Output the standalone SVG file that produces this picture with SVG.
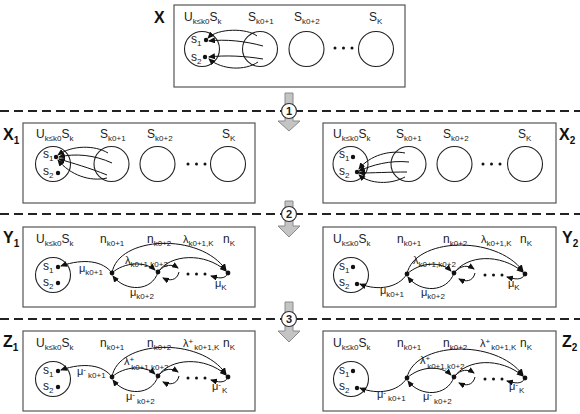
<svg xmlns="http://www.w3.org/2000/svg" width="580" height="414" viewBox="0 0 580 414">
<defs>
<marker id="ah" markerUnits="userSpaceOnUse" markerWidth="7" markerHeight="6" refX="6" refY="3" orient="auto">
<path d="M0,0 L7,3 L0,6 z" fill="#111"/>
</marker>
</defs>
<style>
text{font-family:"Liberation Sans",Arial,sans-serif;fill:#222}
.t{font-size:12px}
.g{font-size:11px}
.sb{font-size:8px}
.lab{font-size:16px;font-weight:bold;fill:#111}
.lsub{font-size:10px;font-weight:bold}
.box{fill:#fff;stroke:#555;stroke-width:1.2}
.set{fill:none;stroke:#222;stroke-width:1.1}
.c{fill:none;stroke:#111;stroke-width:1;marker-end:url(#ah)}
.dot{fill:#111}
.dash{stroke:#222;stroke-width:2;stroke-dasharray:9 5}
.step{fill:#c4c4c4;stroke:#8a8a8a;stroke-width:1}
.num{fill:#fff;stroke:#333;stroke-width:1.2}
.nt{font-size:11px;font-weight:bold;text-anchor:middle}
</style>
<rect width="580" height="414" fill="#fff"/>
<g id="all" opacity="0.995">
<g id="separators">
<line class="dash" x1="0" y1="111" x2="580" y2="111"/>
<line class="dash" x1="0" y1="214" x2="580" y2="214"/>
<line class="dash" x1="0" y1="319" x2="580" y2="319"/>
</g>

<g id="step1">
<path class="step" d="M285,93 H293 V121 H300 L289,131 L278,121 H285 Z"/>
<circle class="num" cx="289" cy="111" r="7.5"/>
<text class="nt" x="289" y="115">1</text>
</g>
<g id="step2">
<path class="step" d="M285,201 H293 V226 H300 L289,237 L278,226 H285 Z"/>
<circle class="num" cx="289" cy="214" r="7.5"/>
<text class="nt" x="289" y="218">2</text>
</g>
<g id="step3">
<path class="step" d="M285,302 H293 V331 H300 L289,342 L278,331 H285 Z"/>
<circle class="num" cx="289" cy="319" r="7.5"/>
<text class="nt" x="289" y="323">3</text>
</g>

<g id="panelX">
<rect class="box" x="174" y="5" width="231" height="82"/>
<text class="lab" x="154" y="23">X</text>
<text class="t" x="184" y="21">U<tspan class="sb" dy="3">k≤k0</tspan><tspan dy="-3">S</tspan><tspan class="sb" dy="3">k</tspan></text>
<text class="t" x="248" y="21">S<tspan class="sb" dy="3">k0+1</tspan></text>
<text class="t" x="294" y="21">S<tspan class="sb" dy="3">k0+2</tspan></text>
<text class="t" x="369" y="21">S<tspan class="sb" dy="3">K</tspan></text>
<circle class="set" cx="202" cy="49" r="17.5"/>
<circle class="set" cx="260" cy="49" r="17.5"/>
<circle class="set" cx="306.5" cy="49" r="17.5"/>
<circle class="set" cx="376" cy="49" r="17.5"/>
<circle class="dot" cx="335" cy="48" r="1.5"/><circle class="dot" cx="343.5" cy="48" r="1.5"/><circle class="dot" cx="352" cy="48" r="1.5"/>
<text class="t" x="191" y="43">s<tspan class="sb" dy="3">1</tspan></text>
<text class="t" x="191" y="61">s<tspan class="sb" dy="3">2</tspan></text>
<circle class="dot" cx="206" cy="40" r="2.2"/>
<circle class="dot" cx="205" cy="57" r="2.2"/>
</g>

<g id="panelX1">
<rect class="box" x="23" y="123" width="232" height="80"/>
<text class="lab" x="3" y="140">X<tspan class="lsub" dy="4">1</tspan></text>
<text class="t" x="36" y="138">U<tspan class="sb" dy="3">k≤k0</tspan><tspan dy="-3">S</tspan><tspan class="sb" dy="3">k</tspan></text>
<text class="t" x="100" y="138">S<tspan class="sb" dy="3">k0+1</tspan></text>
<text class="t" x="147" y="138">S<tspan class="sb" dy="3">k0+2</tspan></text>
<text class="t" x="222" y="138">S<tspan class="sb" dy="3">K</tspan></text>
<circle class="set" cx="53" cy="164" r="17.5"/>
<circle class="set" cx="111.5" cy="164" r="17.5"/>
<circle class="set" cx="157.5" cy="164" r="17.5"/>
<circle class="set" cx="228" cy="164" r="17.5"/>
<circle class="dot" cx="188" cy="164" r="1.5"/><circle class="dot" cx="196.5" cy="164" r="1.5"/><circle class="dot" cx="205" cy="164" r="1.5"/>
<text class="t" x="43" y="158">s<tspan class="sb" dy="3">1</tspan></text>
<text class="t" x="43" y="175">s<tspan class="sb" dy="3">2</tspan></text>
<circle class="dot" cx="56" cy="157" r="2.2"/>
<circle class="dot" cx="58" cy="173" r="2.2"/>
</g>

<g id="panelX2">
<rect class="box" x="323" y="123" width="233" height="80"/>
<text class="lab" x="559" y="140">X<tspan class="lsub" dy="4">2</tspan></text>
<text class="t" x="333" y="138">U<tspan class="sb" dy="3">k≤k0</tspan><tspan dy="-3">S</tspan><tspan class="sb" dy="3">k</tspan></text>
<text class="t" x="396" y="138">S<tspan class="sb" dy="3">k0+1</tspan></text>
<text class="t" x="443" y="138">S<tspan class="sb" dy="3">k0+2</tspan></text>
<text class="t" x="518" y="138">S<tspan class="sb" dy="3">K</tspan></text>
<circle class="set" cx="350.5" cy="164" r="17.5"/>
<circle class="set" cx="408.5" cy="164" r="17.5"/>
<circle class="set" cx="454.5" cy="164" r="17.5"/>
<circle class="set" cx="525" cy="164" r="17.5"/>
<circle class="dot" cx="483" cy="164" r="1.5"/><circle class="dot" cx="491.5" cy="164" r="1.5"/><circle class="dot" cx="500" cy="164" r="1.5"/>
<text class="t" x="339" y="158">s<tspan class="sb" dy="3">1</tspan></text>
<text class="t" x="339" y="175">s<tspan class="sb" dy="3">2</tspan></text>
<circle class="dot" cx="353" cy="157" r="2.2"/>
<circle class="dot" cx="357" cy="172" r="2.2"/>
</g>

<g id="panelY1">
<rect class="box" x="23" y="227" width="232" height="80"/>
<text class="lab" x="3" y="243">Y<tspan class="lsub" dy="4">1</tspan></text>
<text class="t" x="36" y="243">U<tspan class="sb" dy="3">k≤k0</tspan><tspan dy="-3">S</tspan><tspan class="sb" dy="3">k</tspan></text>
<text class="t" x="100" y="243">n<tspan class="sb" dy="3">k0+1</tspan></text>
<text class="t" x="147" y="243">n<tspan class="sb" dy="3">k0+2</tspan></text>
<text class="g" x="183" y="243">λ<tspan class="sb" dy="3">k0+1,K</tspan></text>
<text class="t" x="223" y="243">n<tspan class="sb" dy="3">K</tspan></text>
<circle class="set" cx="53" cy="275" r="17.5"/>
<text class="t" x="43" y="270">s<tspan class="sb" dy="3">1</tspan></text>
<text class="t" x="43" y="286">s<tspan class="sb" dy="3">2</tspan></text>
<circle class="dot" cx="58" cy="267" r="2.2"/>
<circle class="dot" cx="58" cy="283" r="2.2"/>
<circle class="dot" cx="112" cy="273" r="2.4"/>
<circle class="dot" cx="158" cy="272" r="2.4"/>
<circle class="dot" cx="228" cy="273" r="2.4"/>
<circle class="dot" cx="188" cy="274" r="1.5"/><circle class="dot" cx="196.5" cy="274" r="1.5"/><circle class="dot" cx="205" cy="274" r="1.5"/>
<text class="g" x="79" y="272">μ<tspan class="sb" dy="3">k0+1</tspan></text>
<text class="g" x="125" y="264">λ<tspan class="sb" dy="3">k0+1,k0+2</tspan></text>
<text class="g" x="130" y="296">μ<tspan class="sb" dy="3">k0+2</tspan></text>
<text class="g" x="215" y="287">μ<tspan class="sb" dy="3">K</tspan></text>
</g>

<g id="panelY2">
<rect class="box" x="323" y="227" width="233" height="80"/>
<text class="lab" x="562" y="243">Y<tspan class="lsub" dy="4">2</tspan></text>
<text class="t" x="333" y="243">U<tspan class="sb" dy="3">k≤k0</tspan><tspan dy="-3">S</tspan><tspan class="sb" dy="3">k</tspan></text>
<text class="t" x="397" y="243">n<tspan class="sb" dy="3">k0+1</tspan></text>
<text class="t" x="443" y="243">n<tspan class="sb" dy="3">k0+2</tspan></text>
<text class="g" x="481" y="243">λ<tspan class="sb" dy="3">k0+1,K</tspan></text>
<text class="t" x="520" y="243">n<tspan class="sb" dy="3">K</tspan></text>
<circle class="set" cx="351" cy="275" r="17.5"/>
<text class="t" x="339" y="270">s<tspan class="sb" dy="3">1</tspan></text>
<text class="t" x="339" y="286">s<tspan class="sb" dy="3">2</tspan></text>
<circle class="dot" cx="353" cy="267" r="2.2"/>
<circle class="dot" cx="357" cy="284" r="2.2"/>
<circle class="dot" cx="407" cy="274" r="2.4"/>
<circle class="dot" cx="454" cy="273" r="2.4"/>
<circle class="dot" cx="525" cy="274" r="2.4"/>
<circle class="dot" cx="485" cy="275" r="1.5"/><circle class="dot" cx="493.5" cy="275" r="1.5"/><circle class="dot" cx="502" cy="275" r="1.5"/>
<text class="g" x="380" y="294">μ<tspan class="sb" dy="3">k0+1</tspan></text>
<text class="g" x="413" y="264">λ<tspan class="sb" dy="3">k0+1,k0+2</tspan></text>
<text class="g" x="421" y="296">μ<tspan class="sb" dy="3">k0+2</tspan></text>
<text class="g" x="508" y="287">μ<tspan class="sb" dy="3">K</tspan></text>
</g>

<g id="panelZ1">
<rect class="box" x="23" y="331" width="232" height="80"/>
<text class="lab" x="3" y="347">Z<tspan class="lsub" dy="4">1</tspan></text>
<text class="t" x="36" y="347">U<tspan class="sb" dy="3">k≤k0</tspan><tspan dy="-3">S</tspan><tspan class="sb" dy="3">k</tspan></text>
<text class="t" x="100" y="347">n<tspan class="sb" dy="3">k0+1</tspan></text>
<text class="t" x="147" y="347">n<tspan class="sb" dy="3">k0+2</tspan></text>
<text class="g" x="183" y="347">λ<tspan class="sb" dy="-3">+</tspan><tspan class="sb" dy="6" dx="1">k0+1,K</tspan></text>
<text class="t" x="223" y="347">n<tspan class="sb" dy="3">K</tspan></text>
<circle class="set" cx="53" cy="379" r="17.5"/>
<text class="t" x="43" y="374">s<tspan class="sb" dy="3">1</tspan></text>
<text class="t" x="43" y="390">s<tspan class="sb" dy="3">2</tspan></text>
<circle class="dot" cx="58" cy="371" r="2.2"/>
<circle class="dot" cx="58" cy="387" r="2.2"/>
<circle class="dot" cx="112" cy="377" r="2.4"/>
<circle class="dot" cx="158" cy="376" r="2.4"/>
<circle class="dot" cx="228" cy="377" r="2.4"/>
<circle class="dot" cx="188" cy="378" r="1.5"/><circle class="dot" cx="196.5" cy="378" r="1.5"/><circle class="dot" cx="205" cy="378" r="1.5"/>
<text class="g" x="77" y="375">μ<tspan class="sb" dy="-3">-</tspan><tspan class="sb" dy="6" dx="2">k0+1</tspan></text>
<text class="g" x="124" y="365">λ<tspan class="sb" dy="-3">+</tspan><tspan class="sb" dy="8" dx="-3">k0+1,k0+2</tspan></text>
<text class="g" x="126" y="400">μ<tspan class="sb" dy="-3">-</tspan><tspan class="sb" dy="7" dx="2">k0+2</tspan></text>
<text class="g" x="212" y="390">μ<tspan class="sb" dy="-3">-</tspan><tspan class="sb" dy="6" dx="1">K</tspan></text>
</g>

<g id="panelZ2">
<rect class="box" x="323" y="331" width="233" height="80"/>
<text class="lab" x="562" y="347">Z<tspan class="lsub" dy="4">2</tspan></text>
<text class="t" x="333" y="347">U<tspan class="sb" dy="3">k≤k0</tspan><tspan dy="-3">S</tspan><tspan class="sb" dy="3">k</tspan></text>
<text class="t" x="397" y="347">n<tspan class="sb" dy="3">k0+1</tspan></text>
<text class="t" x="443" y="347">n<tspan class="sb" dy="3">k0+2</tspan></text>
<text class="g" x="480" y="347">λ<tspan class="sb" dy="-3">+</tspan><tspan class="sb" dy="6" dx="1">k0+1,K</tspan></text>
<text class="t" x="520" y="347">n<tspan class="sb" dy="3">K</tspan></text>
<circle class="set" cx="351" cy="379" r="17.5"/>
<text class="t" x="339" y="374">s<tspan class="sb" dy="3">1</tspan></text>
<text class="t" x="339" y="390">s<tspan class="sb" dy="3">2</tspan></text>
<circle class="dot" cx="353" cy="371" r="2.2"/>
<circle class="dot" cx="357" cy="388" r="2.2"/>
<circle class="dot" cx="407" cy="378" r="2.4"/>
<circle class="dot" cx="454" cy="377" r="2.4"/>
<circle class="dot" cx="525" cy="378" r="2.4"/>
<circle class="dot" cx="485" cy="379" r="1.5"/><circle class="dot" cx="493.5" cy="379" r="1.5"/><circle class="dot" cx="502" cy="379" r="1.5"/>
<text class="g" x="377" y="398">μ<tspan class="sb" dy="-3">-</tspan><tspan class="sb" dy="6" dx="2">k0+1</tspan></text>
<text class="g" x="420" y="364">λ<tspan class="sb" dy="-3">+</tspan><tspan class="sb" dy="8" dx="-3">k0+1,k0+2</tspan></text>
<text class="g" x="423" y="400">μ<tspan class="sb" dy="-3">-</tspan><tspan class="sb" dy="7" dx="2">k0+2</tspan></text>
<text class="g" x="509" y="390">μ<tspan class="sb" dy="-3">-</tspan><tspan class="sb" dy="6" dx="1">K</tspan></text>
</g>

<g id="connectors">
<path class="c" d="M257,36 C247,28 218,28 208,38"/>
<path class="c" d="M263,46 C245,41 225,39 209,41"/>
<path class="c" d="M263,59 C245,56 225,55 209,57"/>
<path class="c" d="M258,62 C245,71 222,70 209,59"/>
<path class="c" d="M108,153 C95,145 72,145 58,155"/>
<path class="c" d="M112,163 C95,155 75,153 59,157"/>
<path class="c" d="M107,175 C90,168 72,163 59,159"/>
<path class="c" d="M107,178 C90,182 70,175 58,160"/>
<path class="c" d="M405,153 C390,150 370,155 359,169"/>
<path class="c" d="M409,162 C390,160 372,165 359,171"/>
<path class="c" d="M407,172 C390,172 372,173 359,173"/>
<path class="c" d="M405,177 C390,185 370,184 359,175"/>
<g id="connY1">
<path class="c" d="M112,273 C103,261 84,258 61,266"/>
<path class="c" d="M112,273 C124,262 145,261 155,270"/>
<path class="c" d="M158,272 C152,292 125,292 113,276"/>
<path class="c" d="M112,273 C118,236 200,232 226,270"/>
<path class="c" d="M158,272 C170,254 205,252 226,271"/>
<path class="c" d="M159,271 C165,264 172,264 178,268"/>
<path class="c" d="M179,272 C177,281 169,281 163,278"/>
<path class="c" d="M228,273 C225,280 218,278 211,276"/>
</g>
<g id="connZ1" transform="translate(0,104)">
<path class="c" d="M112,273 C103,261 84,258 61,266"/>
<path class="c" d="M112,273 C124,262 145,261 155,270"/>
<path class="c" d="M158,272 C152,292 125,292 113,276"/>
<path class="c" d="M112,273 C118,236 200,232 226,270"/>
<path class="c" d="M158,272 C170,254 205,252 226,271"/>
<path class="c" d="M159,271 C165,264 172,264 178,268"/>
<path class="c" d="M179,272 C177,281 169,281 163,278"/>
<path class="c" d="M228,273 C225,280 218,278 211,276"/>
</g>
<g id="connY2">
<path class="c" d="M407,274 C398,288 378,291 360,284"/>
<path class="c" d="M407,274 C420,262 441,261 451,271"/>
<path class="c" d="M454,273 C447,293 420,293 408,277"/>
<path class="c" d="M407,274 C414,238 495,234 523,271"/>
<path class="c" d="M454,273 C467,255 500,253 523,272"/>
<path class="c" d="M455,272 C461,265 468,265 474,269"/>
<path class="c" d="M475,273 C473,282 465,282 459,279"/>
<path class="c" d="M525,274 C522,281 514,279 507,277"/>
</g>
<g id="connZ2" transform="translate(0,104)">
<path class="c" d="M407,274 C398,288 378,291 360,284"/>
<path class="c" d="M407,274 C420,262 441,261 451,271"/>
<path class="c" d="M454,273 C447,293 420,293 408,277"/>
<path class="c" d="M407,274 C414,238 495,234 523,271"/>
<path class="c" d="M454,273 C467,255 500,253 523,272"/>
<path class="c" d="M455,272 C461,265 468,265 474,269"/>
<path class="c" d="M475,273 C473,282 465,282 459,279"/>
<path class="c" d="M525,274 C522,281 514,279 507,277"/>
</g>
</g>
</g>
</svg>
